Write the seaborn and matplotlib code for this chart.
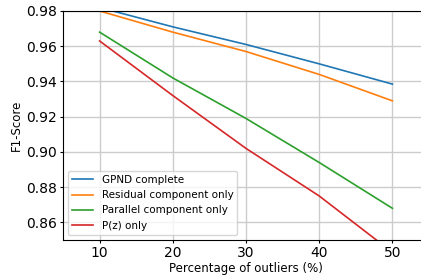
import pandas as pd
import seaborn as sns
import matplotlib
matplotlib.use('Agg')
import matplotlib.pyplot as plt

# Data
outliers = [10, 20, 30, 40, 50]
gpnd_complete = [0.982, 0.971, 0.961, 0.950, 0.9385]
residual_only = [0.980, 0.968, 0.957, 0.944, 0.929]
parallel_only = [0.968, 0.942, 0.919, 0.894, 0.868]
pz_only = [0.963, 0.932, 0.902, 0.875, 0.843]
series_names = ['GPND complete', 'Residual component only',
                'Parallel component only', 'P(z) only']

# Long format table for seaborn
df = pd.DataFrame({
    'x': outliers * 4,
    'y': gpnd_complete + residual_only + parallel_only + pz_only,
    'method': [n for n in series_names for _ in outliers],
})

plt.rcParams['font.family'] = ['DejaVu Sans']
fig = plt.figure(figsize=(4.21, 2.76), dpi=100)
ax = fig.add_axes([63 / 421, 1 - 240 / 276, 366 / 421, 229 / 276])

sns.lineplot(data=df, x='x', y='y', hue='method', palette='tab10',
             linewidth=1.2, ax=ax)

ax.set_xlim(5, 55)
ax.set_ylim(0.85, 0.98)
ax.set_xticks(outliers)
ax.set_yticks([0.86, 0.88, 0.90, 0.92, 0.94, 0.96, 0.98])
ax.grid(True, color='#cccccc', linewidth=1.0)
ax.set_axisbelow(True)
ax.tick_params(labelsize=10, length=2.5, pad=2)
ax.set_xlabel('Percentage of outliers (%)', fontsize=8.5, labelpad=1)
ax.set_ylabel('F1-Score', fontsize=8.5, labelpad=2)

leg = ax.legend(loc='lower left', fontsize=7.5, handlelength=2.0,
                frameon=True, title=None)

fig.savefig('out.png', dpi=100)
